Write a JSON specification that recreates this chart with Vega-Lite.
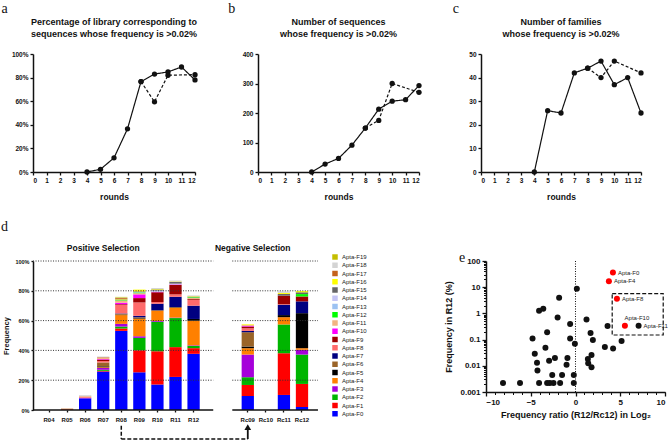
{
  "$schema": "https://vega.github.io/schema/vega-lite/v6.json",
  "background": "white",
  "padding": {"left": 1, "top": 2, "right": 0, "bottom": 0},
  "config": {
    "font": "Liberation Sans",
    "view": {"stroke": null},
    "axis": {
      "domainColor": "#111", "domainWidth": 1.5, "tickColor": "#111", "tickWidth": 1.3, "tickSize": 3,
      "labelColor": "#111", "labelFont": "Liberation Sans", "labelFontWeight": "bold", "labelFontSize": 6.5, "labelPadding": 2, "labelOverlap": false,
      "titleColor": "#111", "titleFont": "Liberation Sans", "titleFontWeight": "bold", "titleFontSize": 8.5, "grid": false
    },
    "title": {"color": "#111", "font": "Liberation Sans", "fontWeight": "bold", "fontSize": 9},
    "text": {"font": "Liberation Sans"}
  },
  "datasets": {
    "pct": [
      {"s": "pos", "r": 4, "v": 0}, {"s": "pos", "r": 5, "v": 2.3}, {"s": "pos", "r": 6, "v": 12}, {"s": "pos", "r": 7, "v": 36.6},
      {"s": "pos", "r": 8, "v": 76.6}, {"s": "pos", "r": 9, "v": 83}, {"s": "pos", "r": 10, "v": 84.8}, {"s": "pos", "r": 11, "v": 89}, {"s": "pos", "r": 12, "v": 78},
      {"s": "neg", "r": 8, "v": 76.6}, {"s": "neg", "r": 9, "v": 59.5}, {"s": "neg", "r": 10, "v": 82}, {"s": "neg", "r": 12, "v": 82.5}
    ],
    "seqs": [
      {"s": "pos", "r": 4, "v": 0}, {"s": "pos", "r": 5, "v": 27}, {"s": "pos", "r": 6, "v": 46}, {"s": "pos", "r": 7, "v": 91},
      {"s": "pos", "r": 8, "v": 149}, {"s": "pos", "r": 9, "v": 213}, {"s": "pos", "r": 10, "v": 240}, {"s": "pos", "r": 11, "v": 245}, {"s": "pos", "r": 12, "v": 293},
      {"s": "neg", "r": 8, "v": 149}, {"s": "neg", "r": 9, "v": 175}, {"s": "neg", "r": 10, "v": 300}, {"s": "neg", "r": 12, "v": 270}
    ],
    "fams": [
      {"s": "pos", "r": 4, "v": 0}, {"s": "pos", "r": 5, "v": 26}, {"s": "pos", "r": 6, "v": 25}, {"s": "pos", "r": 7, "v": 42},
      {"s": "pos", "r": 8, "v": 44}, {"s": "pos", "r": 9, "v": 47}, {"s": "pos", "r": 10, "v": 37}, {"s": "pos", "r": 11, "v": 40}, {"s": "pos", "r": 12, "v": 25},
      {"s": "neg", "r": 8, "v": 44}, {"s": "neg", "r": 9, "v": 40}, {"s": "neg", "r": 10, "v": 47}, {"s": "neg", "r": 12, "v": 42}
    ],
    "comp": [
      {"r": "R05", "k": 1, "v": 0.4}, {"r": "R05", "k": 17, "v": 0.5},
      {"r": "R06", "k": 0, "v": 7.8}, {"r": "R06", "k": 3, "v": 0.4}, {"r": "R06", "k": 8, "v": 0.5}, {"r": "R06", "k": 11, "v": 0.6}, {"r": "R06", "k": 14, "v": 0.2}, {"r": "R06", "k": 18, "v": 0.5},
      {"r": "R07", "k": 0, "v": 25.8}, {"r": "R07", "k": 1, "v": 0.5}, {"r": "R07", "k": 2, "v": 0.7}, {"r": "R07", "k": 3, "v": 1.2}, {"r": "R07", "k": 4, "v": 0.5}, {"r": "R07", "k": 5, "v": 0.6}, {"r": "R07", "k": 6, "v": 2.6}, {"r": "R07", "k": 8, "v": 1.0}, {"r": "R07", "k": 9, "v": 0.9}, {"r": "R07", "k": 10, "v": 0.4}, {"r": "R07", "k": 11, "v": 0.8}, {"r": "R07", "k": 17, "v": 0.4}, {"r": "R07", "k": 18, "v": 0.5},
      {"r": "R08", "k": 0, "v": 53.1}, {"r": "R08", "k": 1, "v": 1.6}, {"r": "R08", "k": 2, "v": 1.3}, {"r": "R08", "k": 3, "v": 1.8}, {"r": "R08", "k": 4, "v": 5.9}, {"r": "R08", "k": 5, "v": 0.3}, {"r": "R08", "k": 6, "v": 0.5}, {"r": "R08", "k": 7, "v": 0.3}, {"r": "R08", "k": 8, "v": 5.7}, {"r": "R08", "k": 9, "v": 0.5}, {"r": "R08", "k": 10, "v": 1.0}, {"r": "R08", "k": 11, "v": 1.5}, {"r": "R08", "k": 12, "v": 0.3}, {"r": "R08", "k": 15, "v": 0.4}, {"r": "R08", "k": 16, "v": 0.3}, {"r": "R08", "k": 17, "v": 0.6}, {"r": "R08", "k": 18, "v": 0.4}, {"r": "R08", "k": 19, "v": 0.4},
      {"r": "R09", "k": 0, "v": 25.3}, {"r": "R09", "k": 1, "v": 14.8}, {"r": "R09", "k": 2, "v": 8.3}, {"r": "R09", "k": 3, "v": 1.1}, {"r": "R09", "k": 4, "v": 11.9}, {"r": "R09", "k": 5, "v": 0.4}, {"r": "R09", "k": 6, "v": 0.4}, {"r": "R09", "k": 7, "v": 1.0}, {"r": "R09", "k": 8, "v": 9.0}, {"r": "R09", "k": 9, "v": 2.9}, {"r": "R09", "k": 10, "v": 2.5}, {"r": "R09", "k": 11, "v": 0.8}, {"r": "R09", "k": 12, "v": 0.5}, {"r": "R09", "k": 13, "v": 0.3}, {"r": "R09", "k": 15, "v": 0.4}, {"r": "R09", "k": 16, "v": 1.2},
      {"r": "R10", "k": 0, "v": 17.1}, {"r": "R10", "k": 1, "v": 22.3}, {"r": "R10", "k": 2, "v": 19.9}, {"r": "R10", "k": 3, "v": 0.5}, {"r": "R10", "k": 4, "v": 6.9}, {"r": "R10", "k": 5, "v": 0.3}, {"r": "R10", "k": 7, "v": 4.3}, {"r": "R10", "k": 8, "v": 1.2}, {"r": "R10", "k": 9, "v": 6.5}, {"r": "R10", "k": 10, "v": 0.4}, {"r": "R10", "k": 14, "v": 0.8}, {"r": "R10", "k": 15, "v": 0.6}, {"r": "R10", "k": 16, "v": 0.4}, {"r": "R10", "k": 18, "v": 0.7},
      {"r": "R11", "k": 0, "v": 22.2}, {"r": "R11", "k": 1, "v": 20.0}, {"r": "R11", "k": 2, "v": 19.5}, {"r": "R11", "k": 3, "v": 0.3}, {"r": "R11", "k": 4, "v": 6.8}, {"r": "R11", "k": 5, "v": 0.3}, {"r": "R11", "k": 7, "v": 6.9}, {"r": "R11", "k": 8, "v": 1.6}, {"r": "R11", "k": 9, "v": 6.4}, {"r": "R11", "k": 10, "v": 0.3}, {"r": "R11", "k": 14, "v": 0.5}, {"r": "R11", "k": 15, "v": 1.2}, {"r": "R11", "k": 16, "v": 0.3}, {"r": "R11", "k": 18, "v": 0.6},
      {"r": "R12", "k": 0, "v": 37.7}, {"r": "R12", "k": 1, "v": 3.8}, {"r": "R12", "k": 2, "v": 1.5}, {"r": "R12", "k": 3, "v": 0.4}, {"r": "R12", "k": 4, "v": 16.5}, {"r": "R12", "k": 5, "v": 1.2}, {"r": "R12", "k": 7, "v": 8.9}, {"r": "R12", "k": 8, "v": 3.8}, {"r": "R12", "k": 9, "v": 0.6}, {"r": "R12", "k": 11, "v": 0.9}, {"r": "R12", "k": 12, "v": 0.4}, {"r": "R12", "k": 15, "v": 0.4}, {"r": "R12", "k": 16, "v": 0.3}, {"r": "R12", "k": 18, "v": 0.5},
      {"r": "Rc09", "k": 0, "v": 9.4}, {"r": "Rc09", "k": 1, "v": 7.4}, {"r": "Rc09", "k": 2, "v": 5.2}, {"r": "Rc09", "k": 3, "v": 15.2}, {"r": "Rc09", "k": 4, "v": 4.3}, {"r": "Rc09", "k": 5, "v": 1.1}, {"r": "Rc09", "k": 6, "v": 9.6}, {"r": "Rc09", "k": 7, "v": 0.9}, {"r": "Rc09", "k": 8, "v": 1.8}, {"r": "Rc09", "k": 9, "v": 1.1}, {"r": "Rc09", "k": 10, "v": 0.4}, {"r": "Rc09", "k": 11, "v": 0.8}, {"r": "Rc09", "k": 16, "v": 0.4},
      {"r": "Rc11", "k": 0, "v": 10.1}, {"r": "Rc11", "k": 1, "v": 28.0}, {"r": "Rc11", "k": 2, "v": 19.3}, {"r": "Rc11", "k": 4, "v": 4.9}, {"r": "Rc11", "k": 5, "v": 1.4}, {"r": "Rc11", "k": 7, "v": 6.9}, {"r": "Rc11", "k": 8, "v": 0.4}, {"r": "Rc11", "k": 9, "v": 5.7}, {"r": "Rc11", "k": 15, "v": 1.2}, {"r": "Rc11", "k": 16, "v": 0.7}, {"r": "Rc11", "k": 18, "v": 1.0},
      {"r": "Rc12", "k": 0, "v": 2.0}, {"r": "Rc12", "k": 1, "v": 15.5}, {"r": "Rc12", "k": 2, "v": 19.7}, {"r": "Rc12", "k": 3, "v": 3.2}, {"r": "Rc12", "k": 4, "v": 1.1}, {"r": "Rc12", "k": 5, "v": 23.5}, {"r": "Rc12", "k": 7, "v": 7.9}, {"r": "Rc12", "k": 9, "v": 3.3}, {"r": "Rc12", "k": 12, "v": 1.6}, {"r": "Rc12", "k": 15, "v": 1.2}, {"r": "Rc12", "k": 16, "v": 0.8}
    ],
    "ratio": [
      {"x": -8.1, "y": 0.0022}, {"x": -6.2, "y": 0.0022}, {"x": -4.07, "y": 0.0022}, {"x": -3.17, "y": 0.0022}, {"x": -2.87, "y": 0.0022}, {"x": -2.46, "y": 0.0022}, {"x": -1.72, "y": 0.0022}, {"x": -0.19, "y": 0.0022},
      {"x": -2.6, "y": 0.0045}, {"x": -1.5, "y": 0.0045}, {"x": -0.19, "y": 0.0045},
      {"x": -4.25, "y": 0.0066}, {"x": -4.3, "y": 0.013}, {"x": -2.95, "y": 0.0155}, {"x": -2.3, "y": 0.0197}, {"x": -1.0, "y": 0.011}, {"x": -0.9, "y": 0.02},
      {"x": -4.55, "y": 0.029}, {"x": -3.36, "y": 0.049}, {"x": -4.8, "y": 0.11}, {"x": -0.6, "y": 0.11}, {"x": -3.17, "y": 0.19}, {"x": -0.07, "y": 0.07},
      {"x": -0.6, "y": 0.39}, {"x": -2.0, "y": 0.7}, {"x": -4.07, "y": 1.26}, {"x": -3.6, "y": 1.5}, {"x": -1.83, "y": 4.0}, {"x": 0.15, "y": 8.7},
      {"x": 1.23, "y": 0.59}, {"x": 1.68, "y": 0.18}, {"x": 1.94, "y": 0.097}, {"x": 1.79, "y": 0.026}, {"x": 1.38, "y": 0.018}, {"x": 1.42, "y": 0.0126}, {"x": 1.79, "y": 0.0089},
      {"x": 3.28, "y": 0.052}, {"x": 4.2, "y": 0.046}, {"x": 5.15, "y": 0.089}, {"x": 3.58, "y": 0.33},
      {"x": 4.18, "y": 36, "name": "Apta-F0"}, {"x": 3.73, "y": 17, "name": "Apta-F4"}, {"x": 4.63, "y": 3.6, "name": "Apta-F8"},
      {"x": 5.52, "y": 0.34, "name": "Apta-F10"}, {"x": 7.05, "y": 0.34, "name": "Apta-F11"}
    ]
  },
  "resolve": {"scale": {"color": "independent"}},
  "spacing": 18,
  "vconcat": [
    {
      "spacing": 30,
      "hconcat": [
        {
          "title": {"text": "a", "anchor": "start", "font": "Liberation Serif", "fontSize": 14, "fontWeight": "normal", "dx": -10, "offset": 2},
          "vconcat": [{
            "width": 162, "height": 118,
            "title": {"text": ["Percentage of library corresponding to", "sequences whose frequency is >0.02%"], "frame": "group", "lineHeight": 12, "offset": 12},
            "data": {"name": "pct"},
            "encoding": {
              "x": {"field": "r", "type": "quantitative", "scale": {"domain": [0, 12], "nice": false}, "axis": {"values": [0, 1, 2, 3, 4, 5, 6, 7, 8, 9, 10, 11, 12], "title": "rounds", "titlePadding": 9}},
              "y": {"field": "v", "type": "quantitative", "scale": {"domain": [0, 100], "nice": false}, "axis": {"values": [0, 20, 40, 60, 80, 100], "labelExpr": "datum.value + '%'", "title": null}}
            },
            "layer": [
              {"mark": {"type": "line", "color": "#111", "strokeWidth": 1.2}, "encoding": {"strokeDash": {"field": "s", "type": "nominal", "scale": {"domain": ["pos", "neg"], "range": [[1, 0], [3, 2]]}, "legend": null}}},
              {"mark": {"type": "point", "filled": true, "color": "#111", "opacity": 1, "size": 28}, "encoding": {"detail": {"field": "s"}}}
            ]
          }]
        },
        {
          "title": {"text": "b", "anchor": "start", "font": "Liberation Serif", "fontSize": 14, "fontWeight": "normal", "dx": -14, "offset": 2},
          "vconcat": [{
            "width": 161, "height": 118,
            "title": {"text": ["Number of sequences", "whose frequency is >0.02%"], "frame": "group", "lineHeight": 12, "offset": 12},
            "data": {"name": "seqs"},
            "encoding": {
              "x": {"field": "r", "type": "quantitative", "scale": {"domain": [0, 12], "nice": false}, "axis": {"values": [0, 1, 2, 3, 4, 5, 6, 7, 8, 9, 10, 11, 12], "title": "rounds", "titlePadding": 9}},
              "y": {"field": "v", "type": "quantitative", "scale": {"domain": [0, 400], "nice": false}, "axis": {"values": [0, 100, 200, 300, 400], "title": null}}
            },
            "layer": [
              {"mark": {"type": "line", "color": "#111", "strokeWidth": 1.2}, "encoding": {"strokeDash": {"field": "s", "type": "nominal", "scale": {"domain": ["pos", "neg"], "range": [[1, 0], [3, 2]]}, "legend": null}}},
              {"mark": {"type": "point", "filled": true, "color": "#111", "opacity": 1, "size": 28}, "encoding": {"detail": {"field": "s"}}}
            ]
          }]
        },
        {
          "title": {"text": "c", "anchor": "start", "font": "Liberation Serif", "fontSize": 14, "fontWeight": "normal", "dx": -16, "offset": 2},
          "vconcat": [{
            "width": 160, "height": 118,
            "title": {"text": ["Number of families", "whose frequency is >0.02%"], "frame": "group", "lineHeight": 12, "offset": 12},
            "data": {"name": "fams"},
            "encoding": {
              "x": {"field": "r", "type": "quantitative", "scale": {"domain": [0, 12], "nice": false}, "axis": {"values": [0, 1, 2, 3, 4, 5, 6, 7, 8, 9, 10, 11, 12], "title": "rounds", "titlePadding": 9}},
              "y": {"field": "v", "type": "quantitative", "scale": {"domain": [0, 50], "nice": false}, "axis": {"values": [0, 10, 20, 30, 40, 50], "title": null}}
            },
            "layer": [
              {"mark": {"type": "line", "color": "#111", "strokeWidth": 1.2}, "encoding": {"strokeDash": {"field": "s", "type": "nominal", "scale": {"domain": ["pos", "neg"], "range": [[1, 0], [3, 2]]}, "legend": null}}},
              {"mark": {"type": "point", "filled": true, "color": "#111", "opacity": 1, "size": 28}, "encoding": {"detail": {"field": "s"}}}
            ]
          }]
        }
      ]
    },
    {
      "spacing": 77,
      "resolve": {"scale": {"color": "independent"}},
      "hconcat": [
        {
          "title": {"text": "d", "anchor": "start", "frame": "group", "font": "Liberation Serif", "fontSize": 14, "fontWeight": "normal", "dx": -32, "offset": 10},
          "width": 285, "height": 149,
          "resolve": {"axis": {"x": "independent", "y": "independent"}},
          "layer": [
            {
              "data": {"name": "comp"},
              "mark": {"type": "bar"},
              "encoding": {
                "x": {"field": "r", "type": "nominal",
                  "scale": {"domain": ["R04", "R05", "R06", "R07", "R08", "R09", "R10", "R11", "R12", "g1", "g2", "Rc09", "Rc10", "Rc11", "Rc12"], "paddingInner": 0.32, "paddingOuter": 0.546},
                  "axis": {"orient": "bottom", "values": ["R04", "R05", "R06", "R07", "R08", "R09", "R10", "R11", "R12", "Rc09", "Rc10", "Rc11", "Rc12"], "domain": false, "title": null, "labelAngle": 0, "tickSize": 2, "labelFontSize": 6, "labelPadding": 4}},
                "y": {"field": "v", "type": "quantitative", "stack": "zero", "scale": {"domain": [0, 100], "nice": false},
                  "axis": {"orient": "left", "values": [0, 20, 40, 60, 80, 100], "labelExpr": "datum.value + '%'", "labelOverlap": false, "title": "Frequency", "titleFontSize": 7.5, "labelFontSize": 5.5, "tickSize": 2, "titlePadding": 4}},
                "color": {"field": "k", "type": "nominal",
                  "scale": {"domain": [19, 18, 17, 16, 15, 14, 13, 12, 11, 10, 9, 8, 7, 6, 5, 4, 3, 2, 1, 0],
                    "range": ["#C4BE00", "#D4D4D4", "#C4621C", "#FFFF00", "#666666", "#C5C5F5", "#9CC2F2", "#00FF00", "#F2B482", "#FF00FF", "#9B0000", "#FF6B6B", "#000080", "#9A6428", "#000000", "#FF8000", "#A600DA", "#00B500", "#FF0000", "#0000FF"]},
                  "legend": {"title": null, "orient": "none", "legendX": 299, "legendY": -7, "symbolType": "square", "symbolSize": 30, "symbolStrokeWidth": 0, "labelFontSize": 6, "labelFont": "Liberation Sans", "labelColor": "#222", "rowPadding": 2.25, "padding": 0, "labelOffset": 4, "labelExpr": "'Apta-F' + datum.label"}},
                "order": {"field": "k", "type": "quantitative", "sort": "ascending"}
              }
            },
            {
              "data": {"values": [{"g": 20}, {"g": 40}, {"g": 60}, {"g": 80}, {"g": 100}]},
              "mark": {"type": "rule", "color": "#333", "strokeWidth": 1, "strokeDash": [1, 1.5]},
              "encoding": {
                "y": {"field": "g", "type": "quantitative", "axis": null},
                "x": {"datum": "R04", "bandPosition": -0.8, "axis": null},
                "x2": {"datum": "g1", "bandPosition": 0.63}
              }
            },
            {
              "data": {"values": [{"g": 20}, {"g": 40}, {"g": 60}, {"g": 80}, {"g": 100}]},
              "mark": {"type": "rule", "color": "#333", "strokeWidth": 1, "strokeDash": [1, 1.5]},
              "encoding": {
                "y": {"field": "g", "type": "quantitative", "axis": null},
                "x": {"datum": "g2", "bandPosition": 0.71, "axis": null},
                "x2": {"datum": "Rc12", "bandPosition": 1.8}
              }
            },
            {
              "data": {"values": [{}]},
              "mark": {"type": "rule", "color": "#111", "strokeWidth": 1.5},
              "encoding": {
                "y": {"datum": 0, "axis": null},
                "x": {"datum": "R04", "bandPosition": -0.8, "axis": null},
                "x2": {"datum": "g1", "bandPosition": 0.63}
              }
            },
            {
              "data": {"values": [{}]},
              "mark": {"type": "rule", "color": "#111", "strokeWidth": 1.5},
              "encoding": {
                "y": {"datum": 0, "axis": null},
                "x": {"datum": "g2", "bandPosition": 0.71, "axis": null},
                "x2": {"datum": "Rc12", "bandPosition": 1.8}
              }
            },
            {
              "data": {"values": [{"t": "Positive Selection"}]},
              "mark": {"type": "text", "fontWeight": "bold", "fontSize": 8.5, "color": "#111"},
              "encoding": {"text": {"field": "t"}, "x": {"datum": "R07", "axis": null}, "y": {"datum": 109, "axis": null}}
            },
            {
              "data": {"values": [{"t": "Negative Selection"}]},
              "mark": {"type": "text", "fontWeight": "bold", "fontSize": 8.5, "color": "#111"},
              "encoding": {"text": {"field": "t"}, "x": {"datum": "Rc09", "bandPosition": 0.9, "axis": null}, "y": {"datum": 109, "axis": null}}
            },
            {
              "data": {"values": [{}]},
              "mark": {"type": "rule", "color": "#111", "strokeWidth": 1.5, "strokeDash": [4, 2]},
              "encoding": {"x": {"datum": "R08", "axis": null}, "y": {"datum": -10.5, "axis": null}, "y2": {"datum": -19.5}}
            },
            {
              "data": {"values": [{}]},
              "mark": {"type": "rule", "color": "#111", "strokeWidth": 1.5, "strokeDash": [4, 2]},
              "encoding": {"x": {"datum": "R08", "axis": null}, "x2": {"datum": "Rc09"}, "y": {"datum": -19.5, "axis": null}}
            },
            {
              "data": {"values": [{}]},
              "mark": {"type": "rule", "color": "#111", "strokeWidth": 1.8},
              "encoding": {"x": {"datum": "Rc09", "axis": null}, "y": {"datum": -19.5, "axis": null}, "y2": {"datum": -13}}
            },
            {
              "data": {"values": [{}]},
              "mark": {"type": "point", "shape": "triangle-up", "filled": true, "color": "#111", "opacity": 1, "size": 45},
              "encoding": {"x": {"datum": "Rc09", "axis": null}, "y": {"datum": -11.5, "axis": null}}
            }
          ]
        },
        {
          "title": {"text": "e", "anchor": "start", "frame": "group", "font": "Liberation Serif", "fontSize": 14, "fontWeight": "normal", "dx": -27, "offset": -8},
          "width": 179, "height": 131,
          "resolve": {"axis": {"x": "independent", "y": "independent"}},
          "layer": [
            {
              "data": {"values": [{}]},
              "mark": {"type": "rule", "color": "#111", "strokeWidth": 1, "strokeDash": [1, 1.5]},
              "encoding": {"x": {"datum": 0, "type": "quantitative", "scale": {"domain": [-10, 10], "nice": false},
                "axis": {"orient": "bottom", "values": [-10, -9, -8, -7, -6, -5, -4, -3, -2, -1, 0, 1, 2, 3, 4, 5, 6, 7, 8, 9, 10], "labels": false, "domain": false, "tickSize": 2.5, "tickWidth": 1, "title": null}}}
            },
            {
              "data": {"values": [{}]},
              "mark": {"type": "rect", "fill": null, "fillOpacity": 0, "stroke": "#111", "strokeWidth": 1.2, "strokeDash": [4, 2]},
              "encoding": {
                "x": {"datum": 4.1, "type": "quantitative", "axis": null}, "x2": {"datum": 9.8},
                "y": {"datum": 0.15, "type": "quantitative", "scale": {"type": "log", "domain": [0.001, 100], "nice": false},
                  "axis": {"orient": "left", "values": [0.002, 0.003, 0.004, 0.005, 0.006, 0.007, 0.008, 0.009, 0.02, 0.03, 0.04, 0.05, 0.06, 0.07, 0.08, 0.09, 0.2, 0.3, 0.4, 0.5, 0.6, 0.7, 0.8, 0.9, 2, 3, 4, 5, 6, 7, 8, 9, 20, 30, 40, 50, 60, 70, 80, 90], "labels": false, "domain": false, "tickSize": 2.5, "tickWidth": 1, "title": null}},
                "y2": {"datum": 5.7}
              }
            },
            {
              "data": {"name": "ratio"},
              "mark": {"type": "point", "filled": true, "opacity": 1, "size": 36},
              "encoding": {
                "x": {"field": "x", "type": "quantitative", "axis": {"orient": "bottom", "values": [-10, -5, 0, 5, 10], "title": "Frequency ratio (R12/Rc12) in Log₂", "labelFontSize": 8, "tickSize": 4, "titleFontSize": 9, "titlePadding": 4}},
                "y": {"field": "y", "type": "quantitative", "axis": {"orient": "left", "values": [0.001, 0.01, 0.1, 1, 10, 100], "format": "~g", "title": "Frequency in R12 (%)", "labelFontSize": 8, "tickSize": 4, "titleFontSize": 9, "titlePadding": 6}},
                "color": {"condition": {"test": "indexof(['Apta-F0','Apta-F4','Apta-F8','Apta-F10'], datum.name) >= 0", "value": "#FF0000"}, "value": "#111"}
              }
            },
            {
              "data": {"name": "ratio"},
              "transform": [{"filter": "datum.name && datum.name != 'Apta-F10'"}],
              "mark": {"type": "text", "align": "left", "dx": 5, "fontSize": 6, "color": "#222"},
              "encoding": {"x": {"field": "x", "type": "quantitative", "axis": null}, "y": {"field": "y", "type": "quantitative", "axis": null}, "text": {"field": "name"}}
            },
            {
              "data": {"name": "ratio"},
              "transform": [{"filter": "datum.name == 'Apta-F10'"}],
              "mark": {"type": "text", "align": "center", "dx": 12, "dy": -8, "fontSize": 6, "color": "#222"},
              "encoding": {"x": {"field": "x", "type": "quantitative", "axis": null}, "y": {"field": "y", "type": "quantitative", "axis": null}, "text": {"field": "name"}}
            }
          ]
        }
      ]
    }
  ]
}
